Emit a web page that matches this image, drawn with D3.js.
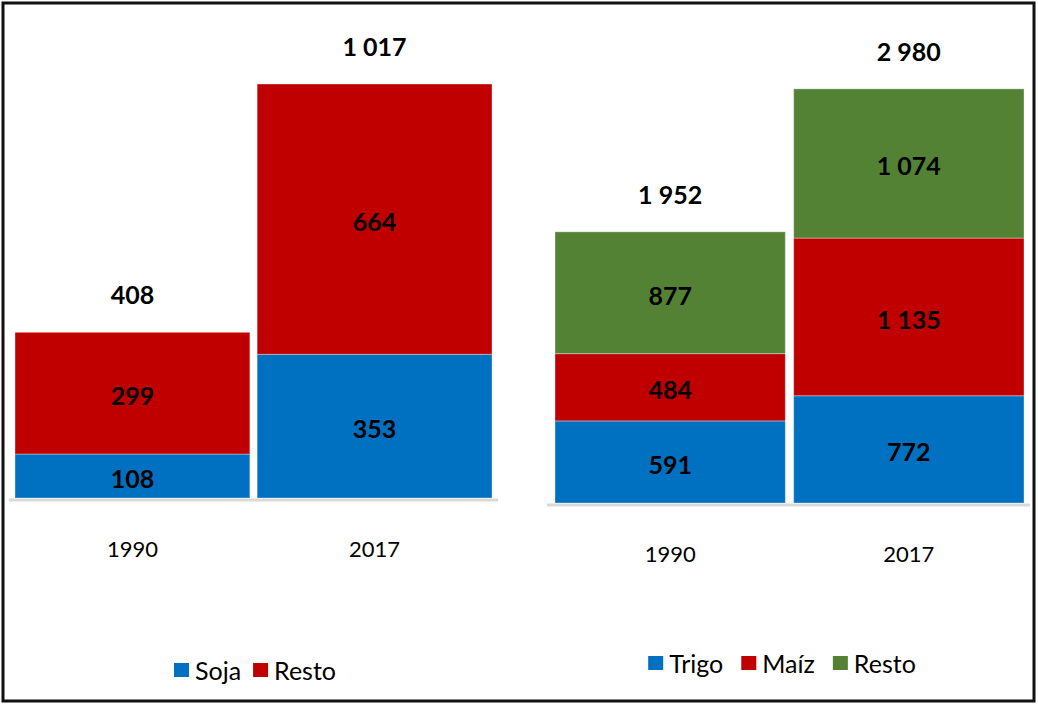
<!DOCTYPE html>
<html>
<head>
<meta charset="utf-8">
<script src="https://cdn.jsdelivr.net/npm/d3@7"></script>
<style>
	body{margin:0;background:#fff;}
	svg text{font-family:Lato,"Open Sans",sans-serif;}
</style>
</head>
<body>
<svg id="canvas" width="1038" height="704"></svg>
<script>
// data
var years = ["1990", "2017"];

var leftKeys = ["Soja", "Resto"];
var sojaVals = [108, 353];
var restoLeftVals = [299, 664];
var leftTotals = [408, 1017];

var rightKeys = ["Trigo", "Maíz", "Resto"];
var trigoVals = [591, 772];
var maizVals = [484, 1135];
var restoRightVals = [877, 1074];
var rightTotals = [1952, 2980];

var colors = {blue:"#0070C0", red:"#C00000", green:"#548235"};

var StackWidget = {};
StackWidget = {
	settings:{
		fmt: d3.formatLocale({decimal:",", thousands:" ", grouping:[3], currency:["",""]}).format(",")
	},
	buildRows: function(keys, valueLists){
		return years.map(function(year, i){
			var row = {year: year};
			keys.forEach(function(k, j){ row[k] = valueLists[j][i]; });
			return row;
		});
	},
	generateChart: function(s_canvas, opt){
		var svg = d3.select(s_canvas);
		var g = svg.append("g");
		var fmt = StackWidget.settings.fmt;

		var x = d3.scaleBand().domain(years).range(opt.xRange)
			.paddingInner(opt.pad).paddingOuter(0);
		var y = d3.scaleLinear().domain([0, d3.max(opt.totals)]).range(opt.yRange);
		var color = d3.scaleOrdinal().domain(opt.keys).range(opt.colors);

		var rows = StackWidget.buildRows(opt.keys, opt.values);
		var series = d3.stack().keys(opt.keys)(rows);
		var top = series[series.length - 1];

		//axis line
		g.append("line")
			.attr("x1", opt.axisX[0]).attr("x2", opt.axisX[1])
			.attr("y1", y(0) + 2).attr("y2", y(0) + 2)
			.attr("stroke", "#d9d9d9").attr("stroke-width", 3);

		var layer = g.selectAll("g.layer").data(series)
			.enter().append("g")
			.attr("class", "layer")
			.attr("fill", function(d){ return color(d.key); });

		layer.selectAll("rect").data(function(d){ return d; })
			.enter().append("rect")
			.attr("x", function(d){ return x(d.data.year); })
			.attr("width", x.bandwidth())
			.attr("y", function(d){ return y(d[1]); })
			.attr("height", function(d){ return y(d[0]) - y(d[1]); })
			.attr("stroke", "rgba(255,255,255,0.35)")
			.attr("stroke-width", 1);

		// segment labels
		layer.selectAll("text").data(function(d){ return d; })
			.enter().append("text")
			.attr("x", function(d){ return x(d.data.year) + x.bandwidth()/2; })
			.attr("y", function(d){ return (y(d[0]) + y(d[1]))/2 + 2; })
			.attr("text-anchor", "middle")
			.attr("dominant-baseline", "central")
			.attr("fill", "#000")
			.attr("font-weight", "bold")
			.attr("font-size", 25)
			.text(function(d){ return fmt(d[1] - d[0]); });

		// totals, sitting above the stack
		g.selectAll("text.total").data(opt.totals)
			.enter().append("text")
			.attr("class", "total")
			.attr("x", function(d, i){ return x(years[i]) + x.bandwidth()/2; })
			.attr("y", function(d, i){ return y(top[i][1]) - 38; })
			.attr("text-anchor", "middle")
			.attr("dominant-baseline", "central")
			.attr("font-weight", "bold")
			.attr("font-size", 25)
			.text(function(d){ return fmt(d); });

		// years
		g.selectAll("text.year").data(years)
			.enter().append("text")
			.attr("class", "year")
			.attr("x", function(d){ return x(d) + x.bandwidth()/2; })
			.attr("y", y(0) + 50)
			.attr("text-anchor", "middle")
			.attr("dominant-baseline", "central")
			.attr("font-size", 22)
			.text(function(d){ return d; });

		StackWidget.generateLegend(g, opt, color);
	},
	generateLegend: function(g, opt, color){
		var leg = g.append("g");
		var cx = 0;
		opt.keys.forEach(function(k){
			leg.append("rect")
				.attr("x", cx).attr("y", -7)
				.attr("width", 15).attr("height", 14)
				.attr("fill", color(k));
			var t = leg.append("text")
				.attr("x", cx + 21).attr("y", 0)
				.attr("dominant-baseline", "central")
				.attr("font-size", 25)
				.text(k);
			cx += 21 + t.node().getComputedTextLength() + opt.legendGap;
		});
		var w = cx - opt.legendGap;
		leg.attr("transform", "translate(" + (opt.legendX - w/2) + "," + opt.legendY + ")");
	}
};

var svg = d3.select("#canvas");
// frame
svg.append("rect")
	.attr("x", 3).attr("y", 3)
	.attr("width", 1031).attr("height", 698)
	.attr("fill", "none").attr("stroke", "#111").attr("stroke-width", 3);

StackWidget.generateChart("#canvas", {
	keys: leftKeys,
	values: [sojaVals, restoLeftVals],
	totals: leftTotals,
	colors: [colors.blue, colors.red],
	xRange: [15, 492], pad: 0.03,
	yRange: [498, 84],
	axisX: [9, 498],
	legendX: 255, legendY: 670, legendGap: 12
});

StackWidget.generateChart("#canvas", {
	keys: rightKeys,
	values: [trigoVals, maizVals, restoRightVals],
	totals: rightTotals,
	colors: [colors.blue, colors.red, colors.green],
	xRange: [555, 1024], pad: 0.035,
	yRange: [503, 89],
	axisX: [547, 1030],
	legendX: 782, legendY: 663, legendGap: 18
});
</script>
</body>
</html>
